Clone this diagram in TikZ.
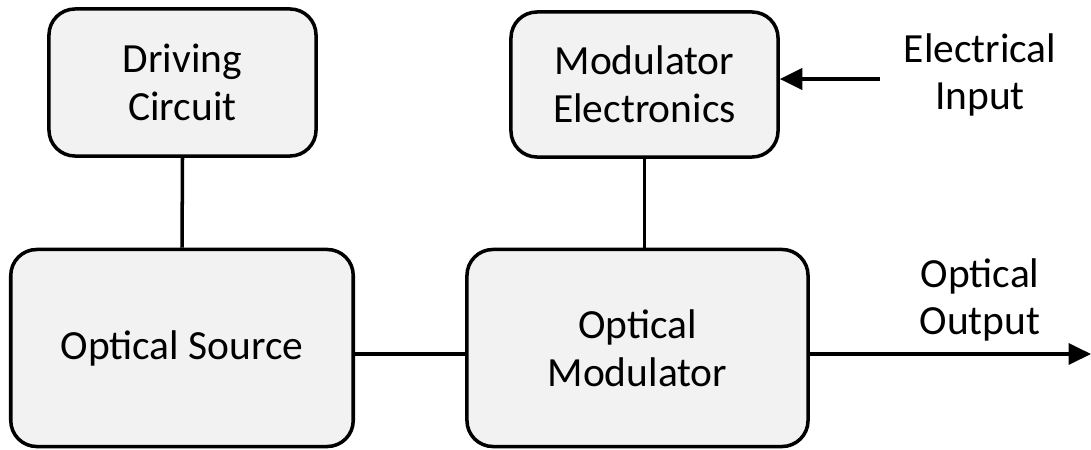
\documentclass[tikz,border=0pt]{standalone}
\usepackage{fontspec}
\setmainfont{Carlito}
\usetikzlibrary{positioning,arrows.meta,calc}
\tikzset{
  block/.style={align=center,rectangle,draw,fill=black!5,line width=2.5pt,rounded corners=0.65cm,inner sep=0pt},
  label/.style={align=center},
  >={Triangle[length=16pt,width=15pt]}
}

\begin{document}
\begin{tikzpicture}[x=0.025cm,y=-0.025cm,line width=2.5pt,font=\fontsize{29.5}{34}\selectfont]
    \useasboundingbox (0,0) rectangle (1091,449);
    \node at (182.5, 82.5) [block, minimum width=6.675cm, minimum height=3.675cm] (DC) {Driving\\Circuit};
    \node at (182, 348) [block, minimum width=8.56cm, minimum height=4.925cm] (src) {Optical Source};
    \node at (644.5, 84.5) [block, minimum width=6.675cm, minimum height=3.625cm] (ME) {Modulator\\Electronics};
    \node at (637.5, 348) [block, minimum width=8.525cm, minimum height=4.925cm] (OM) {Optical\\Modulator};

    \node at (980, 75) [label] (elec) {Electrical\\Input};
    \node at (980, 300) [label] (optlbl) {Optical\\Output};

    \coordinate (link) at ([yshift=-0.15cm]src.east);
    \coordinate (elecin) at (880, 79);
    \coordinate (optout) at (1091, 354);

    \draw (DC.south) -- (src.north);
    \draw (ME.south) -- (ME.south |- OM.north);
    \draw (link) -- (link -| OM.west);
    \draw[->] (elecin) -- (elecin -| ME.east);
    \draw[->] (OM.east |- optout) -- (optout);
\end{tikzpicture}
\end{document}
